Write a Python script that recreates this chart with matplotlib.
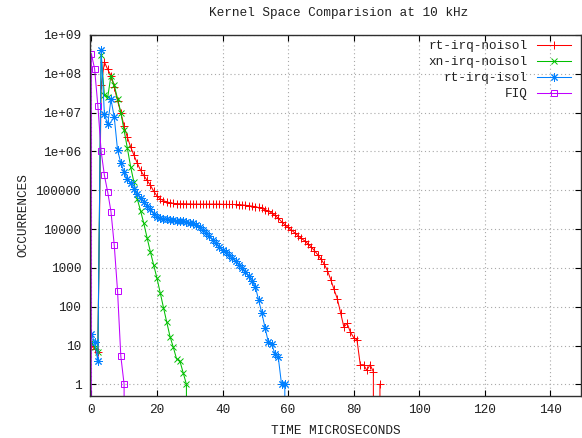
import matplotlib
matplotlib.use("Agg")
import matplotlib.pyplot as plt

# ---------------- data ----------------
title = "Kernel Space Comparision at 10 kHz"
xlabel = "TIME MICROSECONDS"
ylabel = "OCCURRENCES"
series_names = ["rt-irq-noisol", "xn-irq-noisol", "rt-irq-isol", "FIQ"]

rt_noisol_x = list(range(0, 89))
rt_noisol_y = [10, 8, 7, 5e7, 2e8, 1.3e8, 9e7, 4.5e7, 2e7, 1e7,
               4.5e6, 2.3e6, 1.3e6, 8e5, 5e5, 3.3e5, 2.4e5, 1.8e5, 1.35e5, 9.5e4,
               7.2e4, 6e4, 5.4e4, 5e4, 4.8e4, 4.6e4, 4.5e4, 4.5e4, 4.5e4, 4.45e4,
               4.45e4, 4.4e4, 4.4e4, 4.4e4, 4.4e4, 4.4e4, 4.4e4, 4.4e4, 4.4e4, 4.4e4,
               4.35e4, 4.35e4, 4.3e4, 4.3e4, 4.3e4, 4.25e4, 4.2e4, 4.1e4, 4.0e4, 3.9e4,
               3.75e4, 3.6e4, 3.4e4, 3.15e4, 2.9e4, 2.6e4, 2.25e4, 1.9e4, 1.55e4, 1.3e4,
               1.1e4, 9.5e3, 8e3, 6.8e3, 5.8e3, 5e3, 4.2e3, 3.5e3, 2.8e3, 2.2e3,
               1.7e3, 1.25e3, 850, 500, 280, 160, 70, 30, 37, 22,
               16, 14, 3.2, 3.2, 2.3, 3.2, 2.1, 0, 1]

xn_noisol_x = list(range(0, 31))
xn_noisol_y = [12, 9, 7, 3e8, 2.8e7, 2.5e7, 9e7, 5e7, 2.3e7, 1e7,
               3.5e6, 1.2e6, 4e5, 1.6e5, 6e4, 3e4, 1.4e4, 6e3, 2.6e3, 1.2e3,
               550, 230, 95, 40, 17, 9, 4.5, 4, 2, 1,
               0]

rt_isol_x = list(range(0, 61))
rt_isol_y = [20, 12, 4, 4e8, 9e6, 5e6, 2.2e7, 7.6e6, 1.1e6, 5e5,
             3e5, 1.9e5, 1.5e5, 1.1e5, 8e4, 6.5e4, 5e4, 4e4, 3.2e4, 2.5e4,
             2.1e4, 1.9e4, 1.85e4, 1.8e4, 1.75e4, 1.7e4, 1.65e4, 1.6e4, 1.6e4, 1.5e4,
             1.45e4, 1.4e4, 1.25e4, 1.1e4, 9.5e3, 8e3, 6.5e3, 5.3e3, 4.3e3, 3.5e3,
             2.9e3, 2.5e3, 2.1e3, 1.8e3, 1.5e3, 1.2e3, 1e3, 800, 600, 450,
             330, 150, 68, 28, 12, 11, 6, 5, 1, 1,
             0]

fiq_x = list(range(-1, 12))
fiq_y = [0, 3.3e8, 1.35e8, 1.5e7, 1e6, 2.4e5, 9e4, 2.8e4, 3.8e3, 255, 5.3, 1, 0]

xticks = [0, 20, 40, 60, 80, 100, 120, 140]
yticks = [1, 10, 100, 1000, 10000, 100000, 1e6, 1e7, 1e8, 1e9]
ytick_labels = ["1", "10", "100", "1000", "10000", "100000",
                "1e+06", "1e+07", "1e+08", "1e+09"]

# ---------------- style ----------------
W, H = 582, 438
fig = plt.figure(figsize=(W / 100, H / 100), dpi=100)
ax = fig.add_axes([89.5 / W, 1 - 396 / H, (581 - 89.5) / W, (396 - 35) / H])

FONT = "Liberation Mono"
FS = 9.2
TXT = "#202020"
colors = ["#ff0000", "#00c000", "#0080ff", "#c000ff"]
markers = ["+", "x", (8, 2, 0), "s"]
msizes = [6.0, 5.0, 6.0, 4.6]

data = [(rt_noisol_x, rt_noisol_y), (xn_noisol_x, xn_noisol_y),
        (rt_isol_x, rt_isol_y), (fiq_x, fiq_y)]
for (xs, ys), name, c, m, ms in zip(data, series_names, colors, markers, msizes):
    ax.plot(xs, ys, color=c, lw=0.75, marker=m, markersize=ms,
            markerfacecolor="none" if m == "s" else c, markeredgecolor=c,
            markeredgewidth=0.7, label=name)

ax.set_yscale("log")
ax.set_xlim(-0.55, 149.3)
ax.set_ylim(0.5, 1e9)
ax.set_xticks(xticks)
ax.set_xticklabels([str(t) for t in xticks], fontfamily=FONT, fontsize=FS, color=TXT)
ax.set_yticks(yticks)
ax.set_yticklabels(ytick_labels, fontfamily=FONT, fontsize=FS, color=TXT)
ax.yaxis.set_minor_locator(matplotlib.ticker.NullLocator())
ax.tick_params(direction="in", length=4, width=0.8, top=True, right=True,
               pad=6, colors="black", labelcolor=TXT)
ax.grid(True, color="#a8a8a8", linestyle=(0, (1, 2.5)), linewidth=0.8)
for s in ax.spines.values():
    s.set_linewidth(1.0)
    s.set_color("#303030")

fig.text(339 / W, 1 - 13 / H, title, ha="center", va="center",
         fontfamily=FONT, fontsize=FS, color=TXT)
fig.text(336 / W, 1 - 431 / H, xlabel, ha="center", va="center",
         fontfamily=FONT, fontsize=FS, color=TXT)
fig.text(23 / W, 1 - 215 / H, ylabel, ha="center", va="center",
         rotation=90, fontfamily=FONT, fontsize=FS, color=TXT)

leg = ax.legend(loc="upper right", bbox_to_anchor=(571 / W, 1 - 40 / H),
                bbox_transform=fig.transFigure, frameon=False, markerfirst=False,
                numpoints=1, handlelength=2.7, handletextpad=0.7,
                labelspacing=0.32, borderpad=0, borderaxespad=0,
                prop={"family": FONT, "size": FS})
for t in leg.get_texts():
    t.set_color(TXT)

fig.savefig("out.png", dpi=100)
